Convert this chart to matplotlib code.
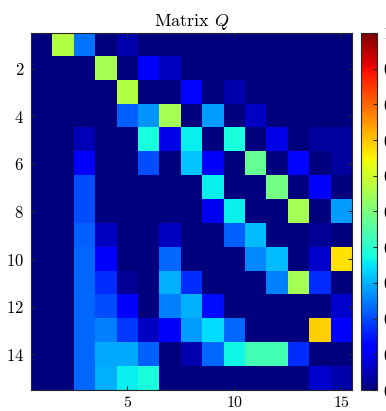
import numpy as np
import matplotlib
matplotlib.use("Agg")
import matplotlib.pyplot as plt

plt.rcParams['font.family'] = 'serif'
plt.rcParams['font.serif'] = ['cmr10', 'DejaVu Serif']
plt.rcParams['mathtext.fontset'] = 'cm'
plt.rcParams['axes.formatter.use_mathtext'] = True

# values, rows 1..15, columns 1..15
rows = [
    [0, .57, .24, 0, .04, 0, 0, 0, 0, 0, 0, 0, 0, 0, 0],
    [0, 0, 0, .55, 0, .12, .06, 0, 0, 0, 0, 0, 0, 0, 0],
    [0, 0, 0, 0, .57, 0, 0, .13, 0, .04, 0, 0, 0, 0, 0],
    [0, 0, 0, 0, .22, .27, .55, 0, .28, 0, .06, 0, 0, 0, 0],
    [0, 0, .05, 0, 0, .38, .09, .36, 0, .38, 0, .09, 0, .03, .03],
    [0, 0, .12, 0, 0, .20, 0, .32, .12, 0, .47, 0, .13, 0, .03],
    [0, 0, .20, 0, 0, 0, 0, 0, .36, 0, 0, .49, 0, .12, 0],
    [0, 0, .20, 0, 0, 0, 0, 0, .10, .36, 0, 0, .55, 0, .28],
    [0, 0, .22, .06, 0, 0, .06, 0, 0, .22, .31, 0, 0, .02, 0],
    [0, 0, .23, .12, 0, 0, .23, 0, 0, 0, .26, .31, 0, .07, .67],
    [0, 0, .23, .17, .02, 0, .30, .17, 0, 0, 0, .25, .55, .17, 0],
    [0, 0, .23, .20, .11, 0, .25, .30, .14, 0, 0, 0, 0, 0, .07],
    [0, 0, .23, .25, .18, .06, .12, .28, .34, .23, 0, 0, 0, .69, .12],
    [0, 0, .23, .29, .29, .22, 0, .04, .23, .37, .43, .43, .17, 0, 0],
    [0, 0, .23, .30, .36, .38, 0, 0, 0, 0, 0, 0, 0, .07, .04],
]
Q = np.array(rows)
n = Q.shape[0]

xticks = [5, 10, 15]
yticks = [2, 4, 6, 8, 10, 12, 14]
cticks = np.round(np.arange(0, 1.01, 0.1), 1)

W, H = 386, 411
fig = plt.figure(figsize=(W / 100, H / 100), dpi=100)
ax = fig.add_axes([31 / W, 1 - 390 / H, 321 / W, 357 / H])
cax = fig.add_axes([361 / W, 1 - 390 / H, 16 / W, 357 / H])

im = ax.imshow(Q, cmap='jet', vmin=0, vmax=1, aspect='auto',
               interpolation='nearest', extent=(0.5, n + 0.5, n + 0.5, 0.5))
ax.set_xticks(xticks)
ax.set_yticks(yticks)
ax.tick_params(direction='in', top=True, right=True, labelsize=12,
               length=3, color='0.15', pad=5)
ax.tick_params(axis='x', pad=3.5, labelsize=11.5)
for s in ax.spines.values():
    s.set_color('0.15')
ax.set_title('Matrix $Q$', fontsize=13, pad=5)

cb = fig.colorbar(im, cax=cax, ticks=cticks)
cb.ax.tick_params(direction='in', labelsize=12, length=3, color='0.15', pad=4)
cb.outline.set_edgecolor('0.15')

fig.savefig('out.png', dpi=100)
